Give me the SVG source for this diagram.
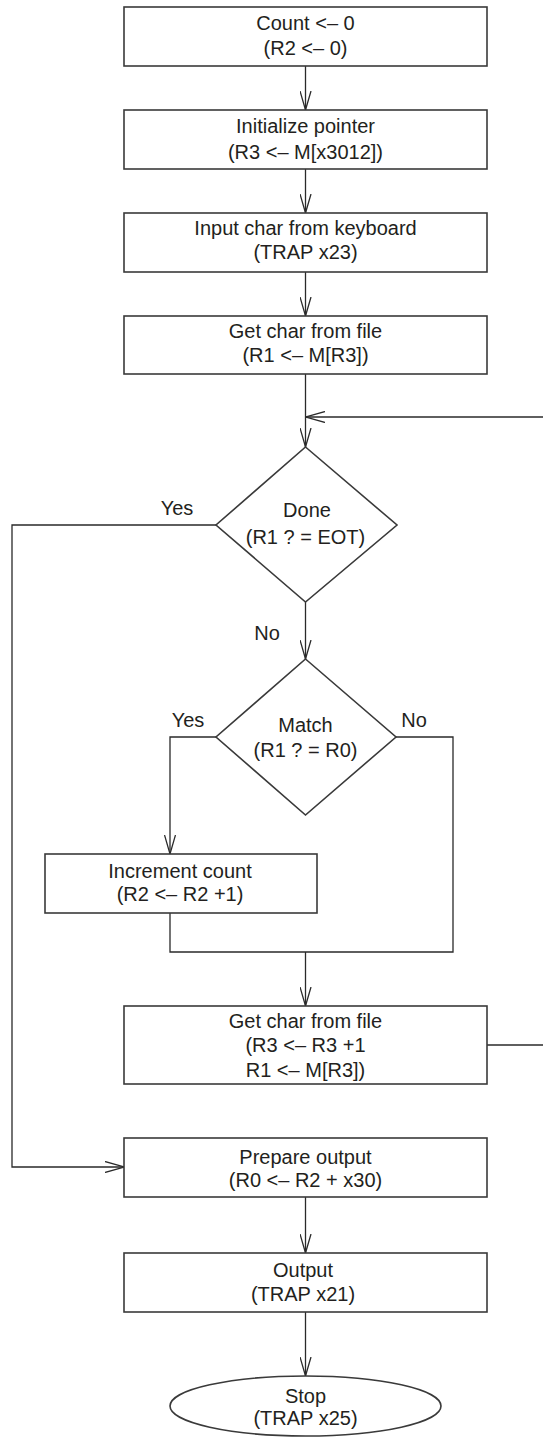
<svg xmlns="http://www.w3.org/2000/svg" width="543" height="1438" viewBox="0 0 543 1438">
<style>
.box{fill:#fff;stroke:#3a3a3a;stroke-width:1.6}
.ln{fill:none;stroke:#2a2a2a;stroke-width:1.3}
text{font-family:"Liberation Sans",Arial,sans-serif;font-size:20px;fill:#231f20;text-anchor:middle}
</style>
<defs>
<marker id="ah" viewBox="0 0 20 12" refX="19" refY="6" markerWidth="20" markerHeight="12" markerUnits="userSpaceOnUse" orient="auto">
<path d="M0,0.5 L19,6 L0,11.5" fill="none" stroke="#2a2a2a" stroke-width="1.3"/>
</marker>
</defs>
<rect width="543" height="1438" fill="#fff"/>
<g id="connectors">
<line class="ln" x1="305.5" y1="66" x2="305.5" y2="110" marker-end="url(#ah)"/>
<line class="ln" x1="305.5" y1="169" x2="305.5" y2="213" marker-end="url(#ah)"/>
<line class="ln" x1="305.5" y1="272" x2="305.5" y2="316" marker-end="url(#ah)"/>
<line class="ln" x1="305.5" y1="374" x2="305.5" y2="447" marker-end="url(#ah)"/>
<line class="ln" x1="543" y1="417" x2="306" y2="417" marker-end="url(#ah)"/>
<line class="ln" x1="487" y1="1045" x2="543" y2="1045"/>
<polyline class="ln" points="216,525 12,525 12,1167 124,1167" marker-end="url(#ah)"/>
<line class="ln" x1="305.5" y1="602" x2="305.5" y2="659" marker-end="url(#ah)"/>
<polyline class="ln" points="216,737 170,737 170,854" marker-end="url(#ah)"/>
<polyline class="ln" points="396,737 453,737 453,952 170,952 170,913"/>
<line class="ln" x1="305.5" y1="952" x2="305.5" y2="1006" marker-end="url(#ah)"/>
<line class="ln" x1="305.5" y1="1197" x2="305.5" y2="1253" marker-end="url(#ah)"/>
<line class="ln" x1="305.5" y1="1312" x2="305.5" y2="1376" marker-end="url(#ah)"/>
<text x="177" y="515">Yes</text>
<text x="267" y="640">No</text>
<text x="188" y="727">Yes</text>
<text x="414" y="727">No</text>
</g>
<g id="n1"><rect class="box" x="124" y="7" width="363" height="59"/><text x="305.5" y="30">Count &lt;– 0</text><text x="305.5" y="55">(R2 &lt;– 0)</text></g>
<g id="n2"><rect class="box" x="124" y="110" width="363" height="59"/><text x="305.5" y="133">Initialize pointer</text><text x="305.5" y="159">(R3 &lt;– M[x3012])</text></g>
<g id="n3"><rect class="box" x="124" y="213" width="363" height="59"/><text x="305.5" y="235">Input char from keyboard</text><text x="305.5" y="259">(TRAP x23)</text></g>
<g id="n4"><rect class="box" x="124" y="316" width="363" height="58"/><text x="305.5" y="338">Get char from file</text><text x="305.5" y="362">(R1 &lt;– M[R3])</text></g>
<g id="d1"><polygon class="box" points="305.5,447 397,525 305.5,602 216,525"/><text x="307" y="517">Done</text><text x="305.5" y="544">(R1 ? = EOT)</text></g>
<g id="d2"><polygon class="box" points="305.5,659 396,737 305.5,815 216,737"/><text x="305.5" y="732">Match</text><text x="305.5" y="757">(R1 ? = R0)</text></g>
<g id="n5"><rect class="box" x="45" y="854" width="272" height="59"/><text x="180" y="878">Increment count</text><text x="180" y="901">(R2 &lt;– R2 +1)</text></g>
<g id="n6"><rect class="box" x="124" y="1006" width="363" height="78"/><text x="305.5" y="1028">Get char from file</text><text x="305.5" y="1052">(R3 &lt;– R3 +1</text><text x="305.5" y="1077">R1 &lt;– M[R3])</text></g>
<g id="n7"><rect class="box" x="124" y="1138" width="363" height="59"/><text x="305.5" y="1164">Prepare output</text><text x="305.5" y="1187">(R0 &lt;– R2 + x30)</text></g>
<g id="n8"><rect class="box" x="124" y="1253" width="363" height="59"/><text x="303" y="1277">Output</text><text x="303" y="1301">(TRAP x21)</text></g>
<g id="n9"><ellipse class="box" cx="305.5" cy="1406" rx="135.5" ry="30"/><text x="305.5" y="1403">Stop</text><text x="305.5" y="1425">(TRAP x25)</text></g>
</svg>
